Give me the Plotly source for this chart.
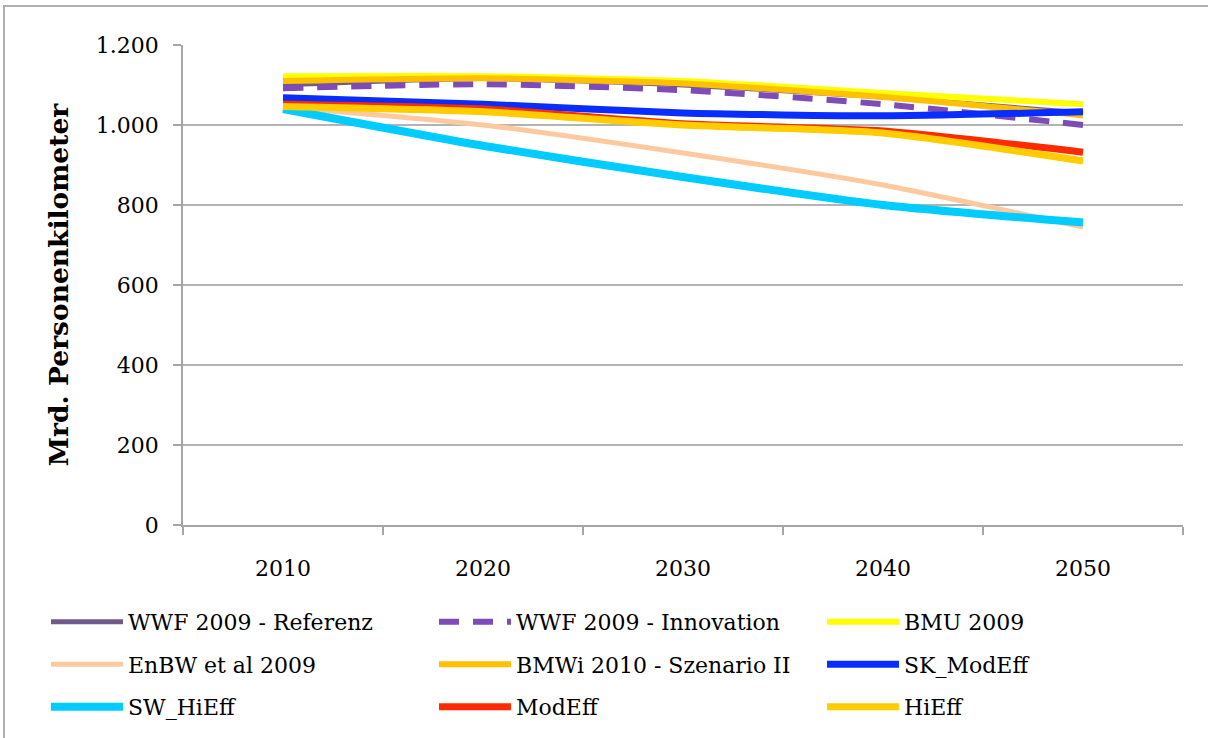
import plotly.graph_objects as go

years = ["2010", "2020", "2030", "2040", "2050"]

wwf_referenz = [1100, 1116, 1100, 1070, 1030]
wwf_innovation = [1092, 1102, 1087, 1052, 1000]
bmu_2009 = [1122, 1122, 1110, 1080, 1052]
enbw_2009 = [1045, 1000, 930, 850, 745]
bmwi_2010 = [1110, 1117, 1104, 1070, 1024]
sk_modeff = [1068, 1052, 1030, 1023, 1033]
sw_hieff = [1040, 948, 870, 800, 756]
modeff = [1052, 1040, 1003, 985, 932]
hieff = [1046, 1033, 1000, 980, 910]

y_ticks = [0, 200, 400, 600, 800, 1000, 1200]
y_tick_labels = ["0", "200", "400", "600", "800", "1.000", "1.200"]

# name, values, colour, width, dash, legend column
series = [
    ("WWF 2009 - Referenz", wwf_referenz, "#6e5a8c", 5, "solid", "legend"),
    ("WWF 2009 - Innovation", wwf_innovation, "#7d4cb8", 6, "20px,14px", "legend2"),
    ("BMU 2009", bmu_2009, "#ffff00", 6, "solid", "legend3"),
    ("EnBW et al 2009", enbw_2009, "#ffc9a0", 5, "solid", "legend"),
    ("BMWi 2010 - Szenario II", bmwi_2010, "#ffc000", 6, "solid", "legend2"),
    ("SK_ModEff", sk_modeff, "#0a2dff", 7, "solid", "legend3"),
    ("SW_HiEff", sw_hieff, "#00ccff", 8, "solid", "legend"),
    ("ModEff", modeff, "#ff2a00", 7, "solid", "legend2"),
    ("HiEff", hieff, "#ffcc00", 7, "solid", "legend3"),
]

FONT = "DejaVu Serif"

fig = go.Figure()
for name, vals, color, width, dash, leg in series:
    fig.add_trace(go.Scatter(
        x=years, y=vals, name=name, mode="lines",
        legend=leg, legendgroup=name,
        line=dict(color=color, width=width, dash=dash, shape="spline", smoothing=0.6),
    ))

legend_common = dict(
    orientation="v",
    xanchor="left", yanchor="top",
    y=-0.158,
    font=dict(family=FONT, size=22, color="black"),
    itemwidth=72,
    tracegroupgap=11,
    bgcolor="rgba(0,0,0,0)",
)

fig.update_layout(
    width=1208, height=738,
    paper_bgcolor="white", plot_bgcolor="white",
    margin=dict(l=183, r=25, t=45, b=213, autoexpand=False),
    font=dict(family=FONT, size=22, color="black"),
    showlegend=True,
    legend=dict(x=-0.137, **legend_common),
    legend2=dict(x=0.251, **legend_common),
    legend3=dict(x=0.639, **legend_common),
    shapes=[dict(
        type="rect", xref="paper", yref="paper",
        x0=-0.179, x1=1.5, y0=-1.0, y1=1.081,
        line=dict(color="#b0b0b0", width=2), fillcolor="rgba(0,0,0,0)",
        layer="below",
    )],
)

fig.update_xaxes(
    type="category",
    showline=True, linecolor="#a6a6a6", linewidth=1.5,
    ticks="outside", ticklen=8, tickcolor="#a6a6a6", tickwidth=1.5,
    tickson="boundaries",
    showgrid=False,
    ticklabelstandoff=23,
    tickfont=dict(family=FONT, size=22, color="black"),
    range=[-0.5, 4.5],
)
fig.update_yaxes(
    range=[0, 1200],
    tickvals=y_ticks, ticktext=y_tick_labels,
    showline=True, linecolor="#a6a6a6", linewidth=1.5,
    ticks="outside", ticklen=8, tickcolor="#a6a6a6", tickwidth=1.5,
    showgrid=True, gridcolor="#b3b3b3", gridwidth=1.5,
    zeroline=False,
    ticklabelstandoff=10,
    tickfont=dict(family=FONT, size=22, color="black"),
    title=dict(text="<b>Mrd. Personenkilometer</b>", font=dict(family=FONT, size=26.5, color="black"), standoff=20),
)

fig.write_html(
    "out.html",
    config={"displayModeBar": False},
    post_script="document.body.style.margin='0';document.body.style.overflow='hidden';",
)
